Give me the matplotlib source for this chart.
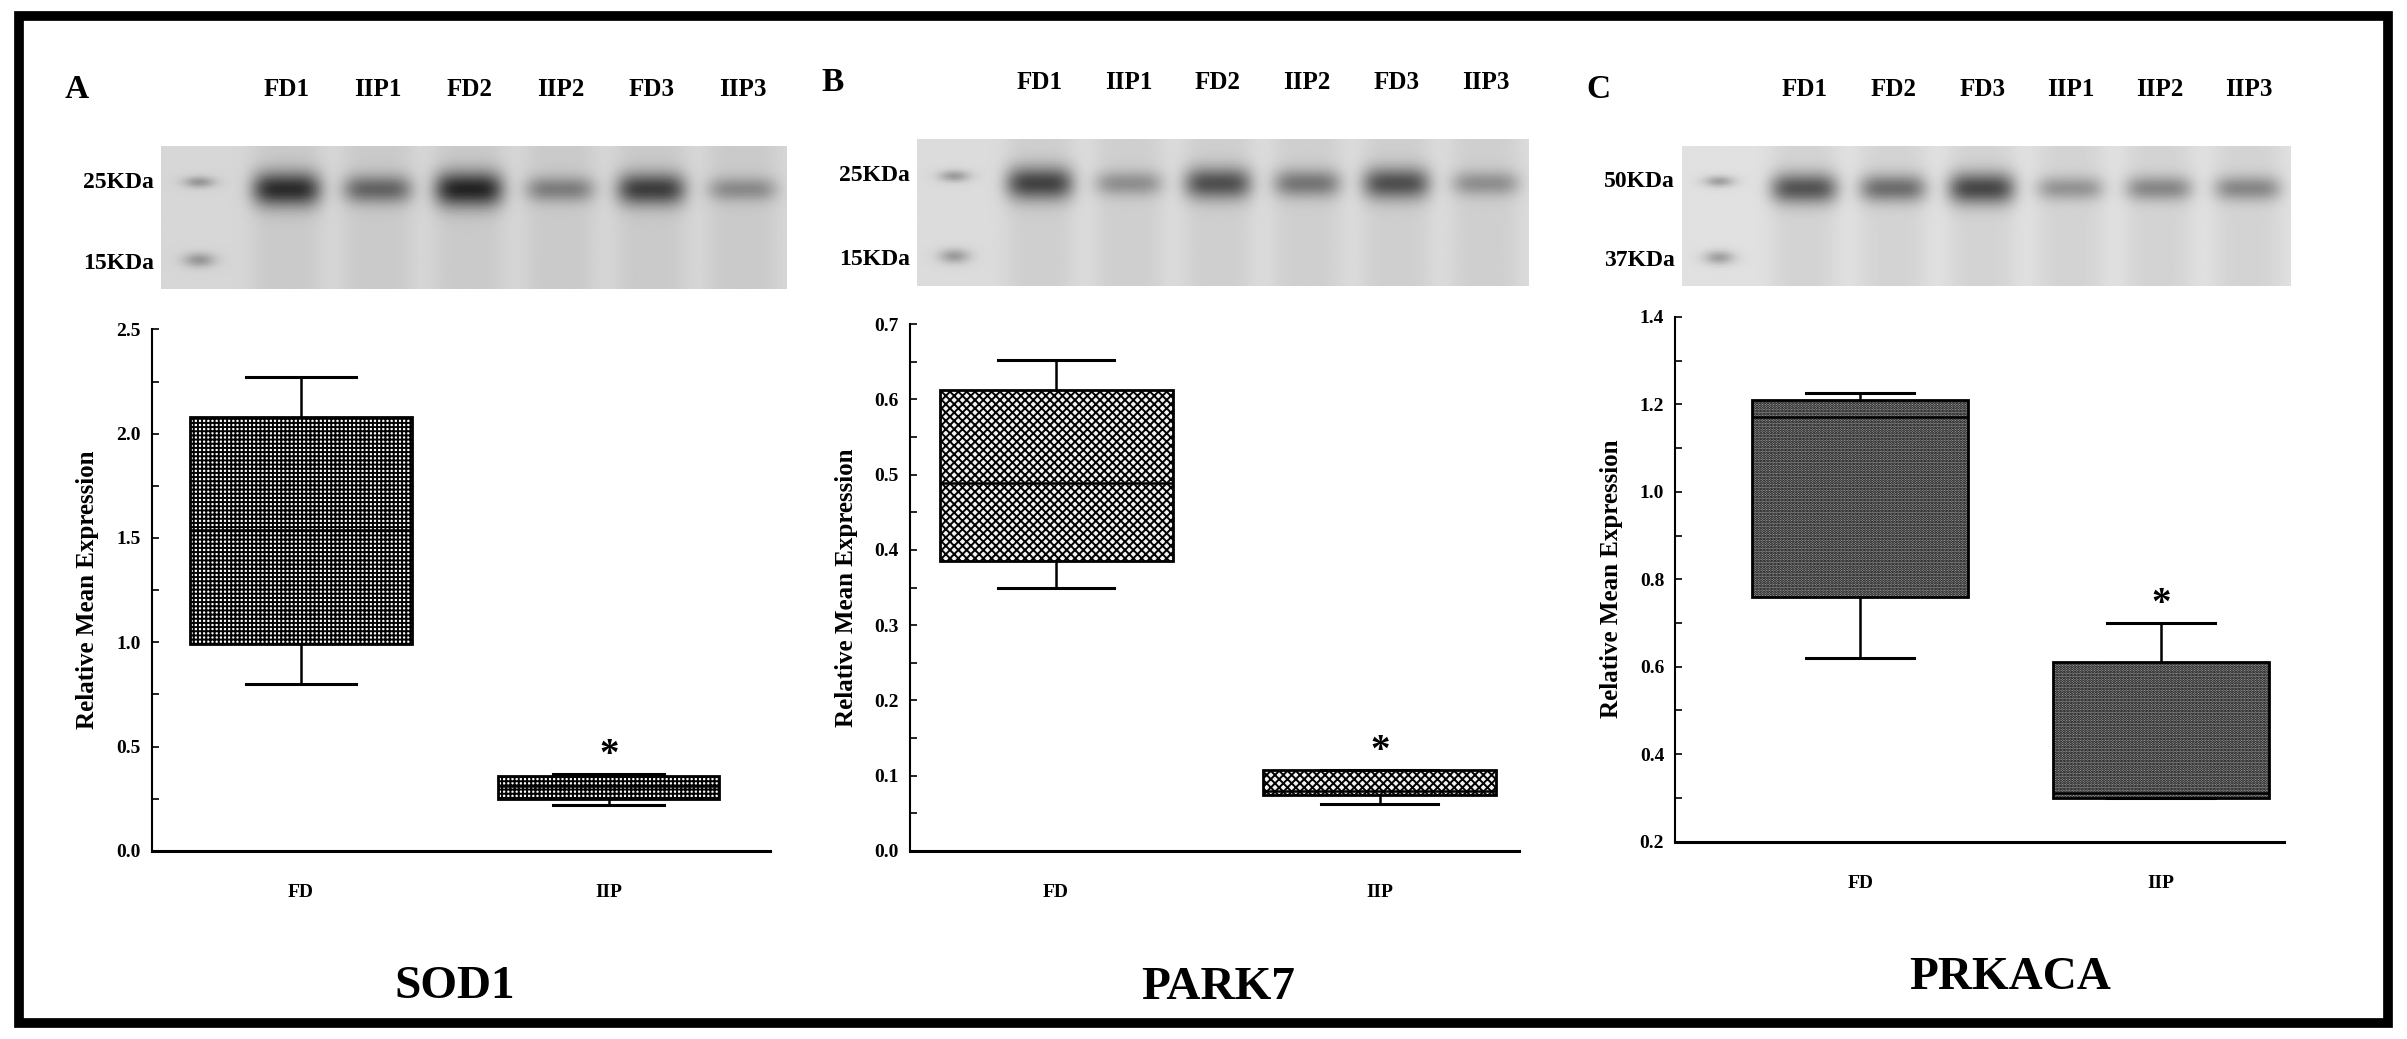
"""Western blot panels with box plots of relative expression (SOD1, PARK7, PRKACA)."""

import matplotlib.pyplot as plt
import numpy as np
from matplotlib.patches import Rectangle

plt.rcParams["font.family"] = ["Liberation Serif", "DejaVu Serif"]
plt.rcParams["font.weight"] = "bold"
plt.rcParams["axes.labelweight"] = "bold"
plt.rcParams["hatch.linewidth"] = 1.4

GROUPS = ["FD", "IIP"]

# box stats per panel: [whislo, q1, med, q3, whishi]
SOD1_FD = [0.80, 0.99, 1.54, 2.08, 2.27]
SOD1_IIP = [0.22, 0.25, 0.31, 0.36, 0.37]
PARK7_FD = [0.350, 0.385, 0.489, 0.612, 0.652]
PARK7_IIP = [0.063, 0.074, 0.080, 0.108, 0.108]
PRKACA_FD = [0.62, 0.76, 1.17, 1.21, 1.225]
PRKACA_IIP = [0.30, 0.30, 0.31, 0.61, 0.70]

SOD1_LANES = ["FD1", "IIP1", "FD2", "IIP2", "FD3", "IIP3"]
PARK7_LANES = ["FD1", "IIP1", "FD2", "IIP2", "FD3", "IIP3"]
PRKACA_LANES = ["FD1", "FD2", "FD3", "IIP1", "IIP2", "IIP3"]

# band darkness per lane (0..1) as seen on the blot
SOD1_BANDS = [0.62, 0.40, 0.65, 0.30, 0.55, 0.25]
PARK7_BANDS = [0.55, 0.25, 0.50, 0.35, 0.50, 0.25]
PRKACA_BANDS = [0.50, 0.40, 0.55, 0.25, 0.30, 0.30]

PANELS = [
    dict(letter="A", title="SOD1", fd=SOD1_FD, iip=SOD1_IIP, lanes=SOD1_LANES,
         bands=SOD1_BANDS, mw=["25KDa", "15KDa"], ylim=(0, 2.5),
         major=np.arange(0, 2.51, 0.5), minor=np.arange(0, 2.51, 0.25), fmt="{:.1f}",
         hatch="++++", face="white", axes=[0.063, 0.181, 0.257, 0.502],
         xlim=(0.515, 2.525), blot=[0.067, 0.722, 0.26, 0.137], base=0.84),
    dict(letter="B", title="PARK7", fd=PARK7_FD, iip=PARK7_IIP, lanes=PARK7_LANES,
         bands=PARK7_BANDS, mw=["25KDa", "15KDa"], ylim=(0, 0.7),
         major=np.arange(0, 0.71, 0.1), minor=np.arange(0, 0.71, 0.05), fmt="{:.1f}",
         hatch="xxxx", face="#f2f2f2", axes=[0.378, 0.181, 0.253, 0.507],
         xlim=(0.548, 2.43), blot=[0.381, 0.725, 0.254, 0.141], base=0.86),
    dict(letter="C", title="PRKACA", fd=PRKACA_FD, iip=PRKACA_IIP, lanes=PRKACA_LANES,
         bands=PRKACA_BANDS, mw=["50KDa", "37KDa"], ylim=(0.2, 1.4),
         major=np.arange(0.2, 1.41, 0.2), minor=np.arange(0.2, 1.41, 0.1), fmt="{:.1f}",
         hatch="......", face="#a0a0a0", axes=[0.696, 0.190, 0.253, 0.505],
         xlim=(0.385, 2.41), blot=[0.699, 0.725, 0.253, 0.134], base=0.88),
]


def blot_image(bands, base, w=400, h=100):
    xs = np.linspace(0, 1, w)
    ys = np.linspace(0, 1, h)[:, None]
    img = np.full((h, w), base)
    # marker lane
    img -= 0.25 * np.exp(-((xs - 0.06) / 0.025) ** 2) * (
        np.exp(-((ys - 0.25) / 0.04) ** 2) + np.exp(-((ys - 0.80) / 0.05) ** 2))
    centers = np.linspace(0.20, 0.93, len(bands))
    for c, d in zip(centers, bands):
        lane = np.exp(-np.abs((xs - c) / 0.055) ** 4)
        img -= d * lane * np.exp(-((ys - 0.30) / (0.06 + 0.10 * d)) ** 2)
        img -= 0.05 * lane
    return np.clip(img, 0, 1)


fig = plt.figure(figsize=(24.07, 10.39), dpi=100)
fig.patches.append(Rectangle((0.008, 0.015), 0.984, 0.97, transform=fig.transFigure,
                             fill=False, lw=7, ec="black"))

for p in PANELS:
    bx = fig.add_axes(p["blot"])
    bx.imshow(blot_image(p["bands"], p["base"]), cmap="gray", vmin=0, vmax=1,
              aspect="auto", extent=(0, 1, 1, 0))
    bx.set_axis_off()
    l, b, w, h = p["blot"]
    fig.text(l - 0.035, b + h + 0.055, p["letter"], fontsize=24, ha="center", va="center")
    centers = np.linspace(0.20, 0.93, len(p["lanes"]))
    for c, name in zip(centers, p["lanes"]):
        fig.text(l + c * w, b + h + 0.055, name, fontsize=18, ha="center", va="center")
    fig.text(l - 0.003, b + h * 0.75, p["mw"][0], fontsize=17, ha="right", va="center")
    fig.text(l - 0.003, b + h * 0.18, p["mw"][1], fontsize=17, ha="right", va="center")

    ax = fig.add_axes(p["axes"])
    stats = []
    for label, v in zip(GROUPS, [p["fd"], p["iip"]]):
        stats.append(dict(label=label, whislo=v[0], q1=v[1], med=v[2], q3=v[3], whishi=v[4]))
    ax.bxp(stats, positions=[1, 2], widths=0.72, capwidths=0.36, showfliers=False,
           patch_artist=True,
           boxprops=dict(facecolor=p["face"], hatch=p["hatch"], edgecolor="black", lw=2),
           medianprops=dict(color="black", lw=1.8),
           whiskerprops=dict(color="black", lw=1.8),
           capprops=dict(color="black", lw=2.2))
    ax.set_xlim(*p["xlim"])
    ax.set_ylim(*p["ylim"])
    ax.set_yticks(p["major"], [p["fmt"].format(t) for t in p["major"]], fontsize=14)
    ax.set_yticks(p["minor"], minor=True)
    ax.set_xticks([1, 2], GROUPS, fontsize=14)
    ax.tick_params(axis="x", length=0, pad=24)
    ax.tick_params(axis="y", which="both", direction="in", length=5, width=1.2, pad=8)
    for side in ["top", "right"]:
        ax.spines[side].set_visible(False)
    ax.spines["left"].set_linewidth(1.5)
    ax.spines["bottom"].set_linewidth(2.2)
    ax.set_ylabel("Relative Mean Expression", fontsize=18, labelpad=12)
    star_y = p["iip"][4] + (p["ylim"][1] - p["ylim"][0]) * 0.035
    ax.text(2, star_y, "*", fontsize=28, ha="center", va="center")
    ax.text(1.5, -0.26, p["title"], transform=ax.get_xaxis_transform(),
            fontsize=34, ha="center", va="center")
    ax.patch.set_alpha(0)

fig.savefig("out.png", dpi=100)
